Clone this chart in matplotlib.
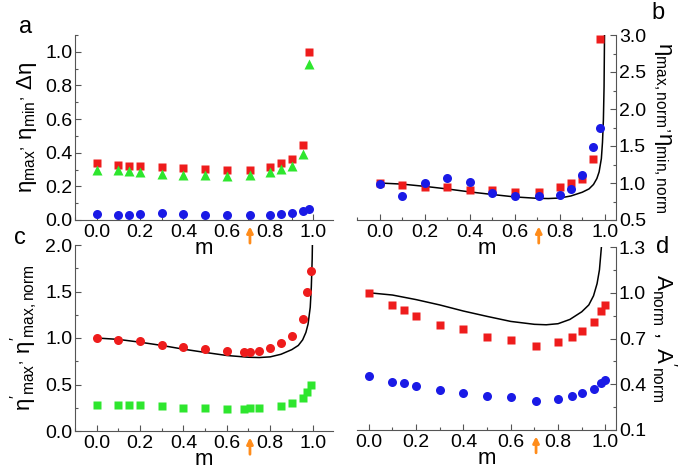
import matplotlib
matplotlib.use("Agg")
import matplotlib.pyplot as plt
from matplotlib.ticker import MultipleLocator, FixedLocator, FormatStrFormatter

plt.rcParams['font.family'] = ['Liberation Sans', 'DejaVu Sans']
plt.rcParams['mathtext.fontset'] = 'custom'
plt.rcParams['mathtext.rm'] = 'Liberation Sans'
plt.rcParams['mathtext.it'] = 'Liberation Sans:italic'
plt.rcParams['mathtext.bf'] = 'Liberation Sans:bold'

RED = '#ee1c1c'
GREEN = '#2ee62e'
BLUE = '#1a1ae6'
ORANGE = '#ff8c1a'

m_star = 0.707

# panel a
m_a = [0, 0.1, 0.15, 0.2, 0.3, 0.4, 0.5, 0.6, 0.707, 0.8, 0.85, 0.9, 0.95, 0.98]
eta_max_a = [0.337, 0.327, 0.32, 0.322, 0.313, 0.307, 0.303, 0.295, 0.30, 0.317, 0.34, 0.362, 0.448, 1.0]
d_eta_a = [0.297, 0.297, 0.29, 0.283, 0.273, 0.267, 0.27, 0.263, 0.267, 0.285, 0.303, 0.32, 0.39, 0.93]
eta_min_a = [0.038, 0.03, 0.03, 0.036, 0.04, 0.036, 0.03, 0.028, 0.028, 0.03, 0.034, 0.04, 0.055, 0.063]

# panel b
m_b = [0, 0.1, 0.2, 0.3, 0.4, 0.5, 0.6, 0.707, 0.8, 0.85, 0.9, 0.95, 0.98]
eta_max_norm = [1.0, 0.97, 0.95, 0.94, 0.91, 0.91, 0.885, 0.885, 0.94, 1.0, 1.06, 1.33, 2.95]
eta_min_norm = [0.99, 0.83, 1.0, 1.07, 1.02, 0.87, 0.82, 0.82, 0.84, 0.92, 1.11, 1.49, 1.75]

# panel c
m_c_red = [0, 0.1, 0.2, 0.3, 0.4, 0.5, 0.6, 0.68, 0.707, 0.75, 0.8, 0.85, 0.9, 0.95, 0.97, 0.99]
eta_p_max_norm = [1.0, 0.975, 0.97, 0.93, 0.905, 0.88, 0.855, 0.845, 0.85, 0.865, 0.89, 0.945, 1.025, 1.2, 1.49, 1.72]
m_c_green = [0, 0.1, 0.15, 0.2, 0.3, 0.4, 0.5, 0.6, 0.68, 0.707, 0.75, 0.85, 0.9, 0.95, 0.97, 0.99]
eta_p_max = [0.28, 0.277, 0.28, 0.277, 0.27, 0.25, 0.245, 0.24, 0.24, 0.245, 0.245, 0.27, 0.3, 0.35, 0.42, 0.49]

# panel d
m_d = [0, 0.1, 0.15, 0.2, 0.3, 0.4, 0.5, 0.6, 0.707, 0.8, 0.86, 0.9, 0.95, 0.98, 1.0]
a_norm = [1.0, 0.92, 0.89, 0.85, 0.79, 0.76, 0.71, 0.69, 0.65, 0.68, 0.71, 0.75, 0.81, 0.88, 0.92]
a_p_norm = [0.455, 0.415, 0.405, 0.39, 0.365, 0.345, 0.325, 0.315, 0.29, 0.305, 0.325, 0.345, 0.37, 0.405, 0.425]

# theory curve (same normalised shape in b, c, d)
m_curve = [0, 0.1, 0.2, 0.3, 0.4, 0.5, 0.6, 0.7, 0.75, 0.8, 0.85, 0.9, 0.93, 0.95,
           0.965, 0.975, 0.985, 0.99, 0.994, 0.997, 0.999]
y_curve = [1.0, 0.985, 0.955, 0.92, 0.88, 0.845, 0.812, 0.793, 0.79, 0.797, 0.825, 0.875,
           0.92, 0.98, 1.06, 1.15, 1.33, 1.55, 1.85, 2.3, 3.0]

yticks_a = [0.0, 0.2, 0.4, 0.6, 0.8, 1.0]
yticks_b = [0.5, 1.0, 1.5, 2.0, 2.5, 3.0]
yticks_c = [0.0, 0.5, 1.0, 1.5, 2.0]
yticks_d = [0.1, 0.4, 0.7, 1.0, 1.3]

fig = plt.figure(figsize=(6.85, 4.7), dpi=100)
W, H = 685.0, 470.0


def box(l, t, r, b):
    return [l / W, 1 - b / H, (r - l) / W, (b - t) / H]


ax_a = fig.add_axes(box(75, 35, 333, 220))
ax_b = fig.add_axes(box(357, 35, 616, 220))
ax_c = fig.add_axes(box(75, 245, 333, 431))
ax_d = fig.add_axes(box(357, 247, 616, 430))


def style(ax, side, yticks, ymin_step, xlim):
    ax.patch.set_alpha(0)
    ax.set_xlim(*xlim)
    ax.set_ylim(yticks[0], yticks[-1] + (0.1 if side == 'left' and yticks[-1] == 1.0 else 0))
    ax.spines['top'].set_visible(False)
    if side == 'left':
        ax.spines['right'].set_visible(False)
    else:
        ax.spines['left'].set_visible(False)
        ax.yaxis.tick_right()
        ax.yaxis.set_label_position('right')
    for s in ax.spines.values():
        s.set_linewidth(0.8)
        s.set_color('#555555')
    ax.xaxis.set_major_locator(MultipleLocator(0.2))
    ax.xaxis.set_minor_locator(MultipleLocator(0.1))
    ax.yaxis.set_major_locator(FixedLocator(yticks))
    ax.yaxis.set_minor_locator(MultipleLocator(ymin_step, offset=yticks[0]))
    ax.tick_params(which='both', direction='in', labelsize=14, width=0.8, color='#555555')
    ax.tick_params(which='major', length=4)
    ax.tick_params(which='minor', length=2)
    ax.tick_params(axis='y', pad=2)
    ax.tick_params(axis='x', pad=3)
    ax.xaxis.set_major_formatter(FormatStrFormatter('%.1f'))
    ax.yaxis.set_major_formatter(FormatStrFormatter('%.1f'))
    ax.set_xlabel('m', fontsize=16, labelpad=-2)
    ax.annotate('', xy=(m_star, -0.02), xycoords=('data', 'axes fraction'),
                xytext=(m_star, -0.14), textcoords=('data', 'axes fraction'),
                arrowprops=dict(arrowstyle='-|>', color=ORANGE, lw=2, mutation_scale=9),
                annotation_clip=False)


style(ax_a, 'left', yticks_a, 0.1, (-0.1, 1.09))
style(ax_b, 'right', yticks_b, 0.25, (-0.1, 1.05))
style(ax_c, 'left', yticks_c, 0.25, (-0.1, 1.09))
style(ax_d, 'right', yticks_d, 0.15, (-0.05, 1.045))

# a
ax_a.plot(m_a, eta_max_a, 's', color=RED, ms=5.5, mec='none')
ax_a.plot(m_a, d_eta_a, '^', color=GREEN, ms=7, mec='none')
ax_a.plot(m_a, eta_min_a, 'o', color=BLUE, ms=6.5, mec='none')
ax_a.set_ylabel(r'$\mathrm{\eta_{max}{}^{,}\ \eta_{min}{}^{,}\ \Delta\eta}$', fontsize=16, labelpad=4)

# b
ax_b.plot(m_curve, y_curve, '-', color='black', lw=1.1)
ax_b.plot(m_b, eta_max_norm, 's', color=RED, ms=5.5, mec='none')
ax_b.plot(m_b, eta_min_norm, 'o', color=BLUE, ms=6.5, mec='none')
ax_b.set_ylabel(r'$\mathrm{\eta_{max,norm}{}^{,}\eta_{min,norm}}$', fontsize=16,
                rotation=-90, va='bottom', labelpad=4)

# c
ax_c.plot(m_curve, y_curve, '-', color='black', lw=1.1)
ax_c.plot(m_c_red, eta_p_max_norm, 'o', color=RED, ms=6.5, mec='none')
ax_c.plot(m_c_green, eta_p_max, 's', color=GREEN, ms=5.5, mec='none')
ax_c.set_ylabel(r"$\mathrm{\eta'_{max}{}^{,}\ \eta'_{max,norm}}$", fontsize=16, labelpad=4)

# d
ax_d.plot(m_curve, y_curve, '-', color='black', lw=1.1)
ax_d.plot(m_d, a_norm, 's', color=RED, ms=5.5, mec='none')
ax_d.plot(m_d, a_p_norm, 'o', color=BLUE, ms=6.5, mec='none')
ax_d.set_ylabel(r"$\mathrm{A_{norm}\ ,\ A'_{norm}}$", fontsize=16,
                rotation=-90, va='bottom', labelpad=2)

for lab, x, y in [('a', 26, 27), ('b', 658, 13), ('c', 20, 238), ('d', 663, 247)]:
    fig.text(x / W, 1 - y / H, lab, fontsize=17, ha='center', va='center')

fig.savefig('out.png', dpi=100)
